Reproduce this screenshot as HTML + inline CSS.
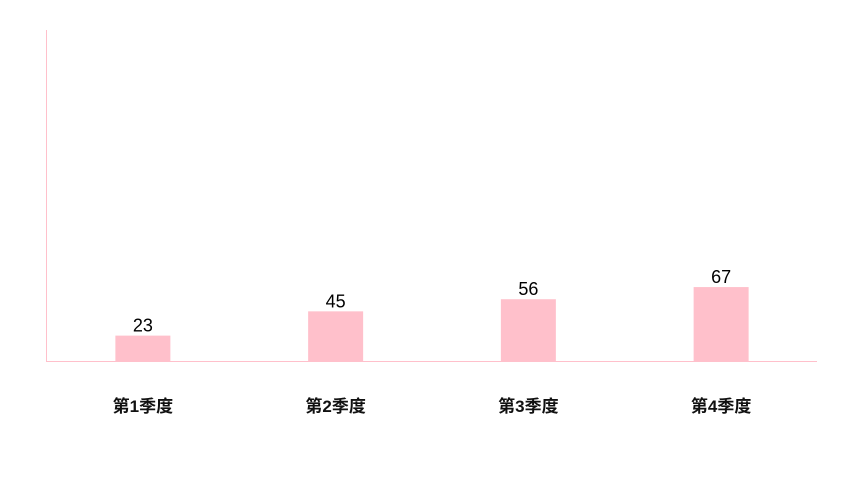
<!DOCTYPE html>
<html><head><meta charset="utf-8"><style>
html,body{margin:0;padding:0;background:#fff;width:859px;height:501px;overflow:hidden}
text{font-family:"Liberation Sans","Noto Sans CJK SC",sans-serif}
</style></head><body>
<svg id="chart" width="859" height="501" xmlns="http://www.w3.org/2000/svg">
<line x1="46.5" y1="30" x2="46.5" y2="361" stroke="#ffc0cb" stroke-width="1"/>
<line x1="46" y1="361.5" x2="817" y2="361.5" stroke="#ffc0cb" stroke-width="1"/>
<g id="bars"></g>
</svg>
<script>
const categories = ["第1季度","第2季度","第3季度","第4季度"];
const values = [23,45,56,67];
const yMax = 300;
const plotLeft=46.5, plotRight=817.5, plotTop=30, plotBase=361, barW=55;
const band=(plotRight-plotLeft)/categories.length;
const xCenter=i=>plotLeft+band*(i+0.5);
const yScale=v=>plotBase-(plotBase-plotTop)*v/yMax;
const g=document.getElementById('bars');
const NS="http://www.w3.org/2000/svg";
categories.forEach((c,i)=>{
  const r=document.createElementNS(NS,'rect');
  
  
  r.setAttribute('x',xCenter(i)-barW/2);r.setAttribute('y',yScale(values[i]));
  r.setAttribute('width',barW);r.setAttribute('height',plotBase-yScale(values[i]));
  r.setAttribute('fill','#ffc0cb');g.appendChild(r);
  const t=document.createElementNS(NS,'text');
  
  
  t.setAttribute('x',xCenter(i));t.setAttribute('y',yScale(values[i])-4);
  t.setAttribute('text-anchor','middle');t.setAttribute('font-size','18');t.setAttribute('fill','#000');
  t.textContent=values[i];g.appendChild(t);
  const l=document.createElementNS(NS,'text');
  
  
  l.setAttribute('x',xCenter(i));l.setAttribute('y',412);
  l.setAttribute('text-anchor','middle');l.setAttribute('font-size','17');l.setAttribute('font-weight','bold');l.setAttribute('fill','#111');
  l.textContent=c;g.appendChild(l);
});
</script>
</body></html>
